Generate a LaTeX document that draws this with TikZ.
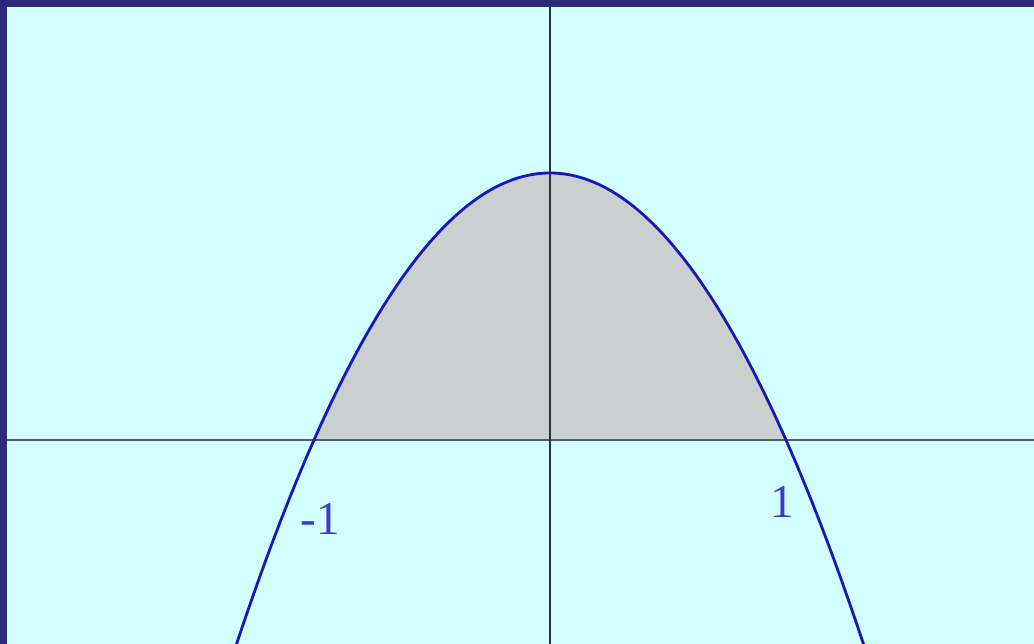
\documentclass[tikz,border=0pt]{standalone}
\usepackage{fontspec}
\setmainfont{Liberation Serif}
\definecolor{navyframe}{HTML}{2A2A78}
\definecolor{bgcyan}{HTML}{D2FFFF}
\definecolor{shadegray}{HTML}{CACFCF}
\definecolor{curveblue}{HTML}{1818B8}
\definecolor{labelblue}{HTML}{3A3AD0}
\definecolor{haxis}{HTML}{4E5E68}
\definecolor{vaxis}{HTML}{303040}
\tikzset{
  curve/.style={draw=curveblue, line width=2.8pt},
  lbl/.style={text=labelblue, font=\fontsize{47}{50}\selectfont, inner sep=0pt},
  haxisline/.style={draw=haxis, line width=1.6pt},
  vaxisline/.style={draw=vaxis, line width=1.1pt},
}
\begin{document}
\begin{tikzpicture}[x=1pt,y=-1pt]
\useasboundingbox (0,0) rectangle (1034,644);
\fill[navyframe] (0,0) rectangle (1034,644);
\fill[bgcyan] (7,7) rectangle (1034,644);
\begin{scope}
\clip (7,7) rectangle (1034,644);
\fill[shadegray] plot[domain=-1:1, samples=120] ({550+236*\x},{440-267*(1-\x*\x)}) -- cycle;
\coordinate (xl) at (7,440);
\coordinate (xr) at (1034,440);
\coordinate (yt) at (550,7);
\coordinate (yb) at (550,644);
\draw[haxisline] (xl) -- (xr);
\draw[vaxisline] (yt) -- (yb);
\draw[curve] plot[domain=-1.34:1.34, samples=240] ({550+236*\x},{440-267*(1-\x*\x)});
\end{scope}
\node[lbl] (m1) at (320,519) {-1};
\node[lbl] (p1) at (782,502) {1};
\end{tikzpicture}
\end{document}
